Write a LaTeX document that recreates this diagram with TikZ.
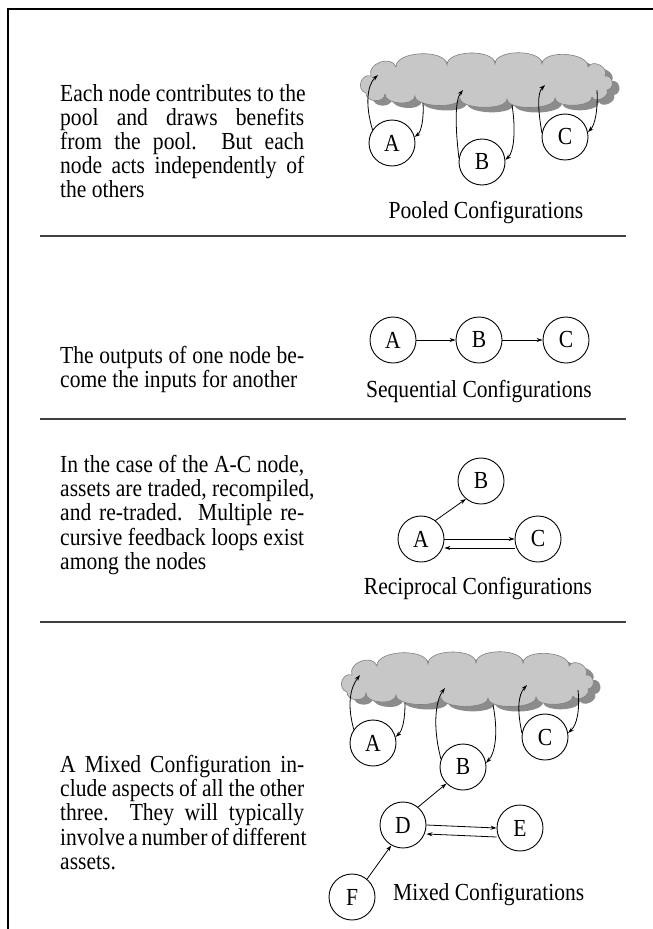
\documentclass[tikz,border=0pt]{standalone}
\usepackage{fontspec}
\setmainfont[FakeStretch=0.88]{Liberation Serif}
\usetikzlibrary{arrows.meta,calc}
\newcommand\jline[1]{\makebox[244pt][s]{#1}}
\newcommand\bmp[3]{.. controls ($(#1)!#3!90:(#2)$) and ($(#2)!#3!-90:(#1)$) .. (#2)}
\newcommand\cloudshape{(366,93) \bmp{366,93}{371,76}{0.6} \bmp{371,76}{396,67}{0.5}
  \bmp{396,67}{447,65}{0.32} \bmp{447,65}{495,64}{0.32} \bmp{495,64}{542,64}{0.32}
  \bmp{542,64}{588,67}{0.32} \bmp{588,67}{605,76}{0.5} \bmp{605,76}{607,90}{0.6}
  \bmp{607,90}{592,97}{0.45} \bmp{592,97}{555,98}{0.28} \bmp{555,98}{507,99}{0.25}
  \bmp{507,99}{460,98}{0.25} \bmp{460,98}{415,96}{0.25} \bmp{415,96}{385,94}{0.35}
  \bmp{385,94}{366,93}{0.5} -- cycle}
\begin{document}
\begin{tikzpicture}[x=1pt,y=-1pt,
  every node/.style={font=\fontsize{24.5}{27}\selectfont, inner sep=0pt},
  nd/.style={circle, draw, line width=0.9pt, minimum size=46pt, inner sep=0pt},
  arr/.style={line width=0.8pt, -{Stealth[length=6pt,width=4pt]}},
  poolfill/.style={fill=black!22, draw=black!50, line width=0.6pt},
  poolshadow/.style={fill=black!45},
  txt/.style={anchor=base west},
  sep/.style={line width=1.2pt, draw=black!75},
]
\useasboundingbox (0,0) rectangle (653,929);
\fill[white] (0,0) rectangle (653,929);
\draw[line width=2pt] (653,9) -- (8,9) -- (8,929);
\draw[sep] (40,236) -- (626,236);
\draw[sep] (40,419) -- (626,419);
\draw[sep] (40,622) -- (626,622);

% ---------- Pooled ----------
\node[txt] (t1a) at (60,101) {Each node contributes to the};
\node[txt] (t1b) at (60,125) {\jline{pool and draws benefits}};
\node[txt] (t1c) at (60,149) {\jline{from the pool.\ \ But each}};
\node[txt] (t1d) at (60,173) {\jline{node acts independently of}};
\node[txt] (t1e) at (60,197) {the others};

\begin{scope}[shift={(7,5)}]
  \path[poolshadow] \cloudshape;
\end{scope}
\path[poolfill] \cloudshape;
\node[nd] (pA) at (392,143) {A};
\node[nd] (pB) at (482,162) {B};
\node[nd] (pC) at (565,137) {C};
\coordinate (pAu) at (378,75);
\coordinate (pAd) at (423,103);
\coordinate (pBu) at (463,90);
\coordinate (pBd) at (512,105);
\coordinate (pCu) at (545,85);
\coordinate (pCd) at (597,90);
\draw[arr] (pA.146) .. controls (365,105) and (367,85) .. (pAu);
\draw[arr] (pAd) .. controls (424,120) and (421,132) .. (pA.15);
\draw[arr] (pB.170) .. controls (455,125) and (455,100) .. (pBu);
\draw[arr] (pBd) .. controls (516,130) and (514,152) .. (pB.5);
\draw[arr] (pC.170) .. controls (538,110) and (537,93) .. (pCu);
\draw[arr] (pCd) .. controls (598,110) and (595,125) .. (pC.12);
\node (lab1) at (486,213) {Pooled Configurations};

% ---------- Sequential ----------
\node[txt] (t2a) at (60,363) {\jline{The outputs of one node be-}};
\node[txt] (t2b) at (60,387) {come the inputs for another};
\node[nd] (sA) at (393,340) {A};
\node[nd] (sB) at (479,340) {B};
\node[nd] (sC) at (566,340) {C};
\draw[arr] (sA) -- (sB);
\draw[arr] (sB) -- (sC);
\node (lab2) at (479,392) {Sequential Configurations};

% ---------- Reciprocal ----------
\node[txt] (t3a) at (60,472) {\jline{In the case of the A-C node,}};
\node[txt] (t3b) at (60,496) {assets are traded, recompiled,};
\node[txt] (t3c) at (60,520) {\jline{and re-traded.\ \ Multiple re-}};
\node[txt] (t3d) at (60,545) {\jline{cursive feedback loops exist}};
\node[txt] (t3e) at (60,569) {among the nodes};
\node[nd] (rB) at (481,481) {B};
\node[nd] (rA) at (421,539) {A};
\node[nd] (rC) at (538,539) {C};
\draw[arr] (rA.52) -- (rB.230);
\draw[arr] (rA.east) -- (rC.west);
\draw[arr] ([yshift=-9pt]rC.west) -- ([yshift=-9pt]rA.east);
\node (lab3) at (478,589) {Reciprocal Configurations};

% ---------- Mixed ----------
\node[txt] (t4a) at (60,772) {\jline{A Mixed Configuration in-}};
\node[txt] (t4b) at (60,796) {\jline{clude aspects of all the other}};
\node[txt] (t4c) at (60,820) {\jline{three.\ \ They will typically}};
\node[txt] (t4d) at (60,845) {\jline{involve a number of different}};
\node[txt] (t4e) at (60,869) {assets.};

\begin{scope}[shift={(-12,604)}]
  \path[poolshadow] \cloudshape;
\end{scope}
\begin{scope}[shift={(-19,599)}]
  \path[poolfill] \cloudshape;
\end{scope}
\node[nd] (mA) at (373,743) {A};
\node[nd] (mB) at (463,767) {B};
\node[nd] (mC) at (545,737) {C};
\node[nd] (mD) at (403,825) {D};
\node[nd] (mE) at (520,828) {E};
\node[nd] (mF) at (352,897) {F};
\coordinate (mAu) at (360,675);
\coordinate (mAd) at (405,703);
\coordinate (mBu) at (445,688);
\coordinate (mBd) at (493,705);
\coordinate (mCu) at (527,685);
\coordinate (mCd) at (578,690);
\draw[arr] (mA.145) .. controls (347,705) and (350,688) .. (mAu);
\draw[arr] (mAd) .. controls (405,718) and (403,730) .. (mA.15);
\draw[arr] (mB.160) .. controls (432,725) and (436,700) .. (mBu);
\draw[arr] (mBd) .. controls (498,730) and (496,752) .. (mB.10);
\draw[arr] (mC.170) .. controls (517,710) and (518,695) .. (mCu);
\draw[arr] (mCd) .. controls (580,710) and (577,725) .. (mC.10);
\draw[arr] (mD.50) -- (mB.225);
\draw[arr] (mF.50) -- (mD.240);
\draw[arr] (mD.east) -- (mE.west);
\draw[arr] ([yshift=-9pt]mE.west) -- ([yshift=-9pt]mD.east);
\node[anchor=west] (lab4) at (393,895) {Mixed Configurations};
\end{tikzpicture}
\end{document}
